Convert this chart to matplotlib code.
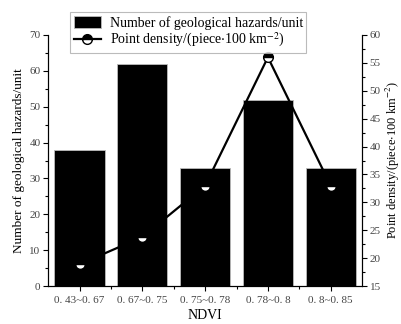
import numpy as np
import matplotlib.pyplot as plt
from matplotlib.ticker import MultipleLocator

# data
ndvi_classes = ["0. 43~0. 67", "0. 67~0. 75", "0. 75~0. 78", "0. 78~0. 8", "0. 8~0. 85"]
hazard_counts = [38, 62, 33, 52, 33]
point_density = [18.9, 23.8, 33.0, 56.0, 33.0]

plt.rcParams['font.family'] = ['Liberation Serif', 'DejaVu Serif']
plt.rcParams['mathtext.fontset'] = 'stix'

fig = plt.figure(figsize=(4.01, 3.24), dpi=100)
ax = fig.add_axes([0.12, 0.117, 0.783, 0.775])
x = np.arange(len(ndvi_classes))

bars = ax.bar(x, hazard_counts, width=0.8, color='black', edgecolor='#bbbbbb',
              linewidth=0.6, label='Number of geological hazards/unit', zorder=2)
ax.set_xlim(-0.5, 4.5)
ax.set_ylim(0, 70)
ax.yaxis.set_major_locator(MultipleLocator(10))
ax.yaxis.set_minor_locator(MultipleLocator(5))
ax.set_xticks(x)
ax.set_xticks(x[:-1] + 0.5, minor=True)
ax.set_xticklabels(ndvi_classes, fontsize=8, color='#444444')
ax.tick_params(axis='y', labelsize=8, labelcolor='#444444', pad=2)
ax.tick_params(which='both', direction='out', width=0.8)
ax.tick_params(which='major', length=3.5)
ax.tick_params(which='minor', length=2)
ax.spines['top'].set_visible(False)
ax.set_xlabel('NDVI', fontsize=10, labelpad=3)
ax.set_ylabel('Number of geological hazards/unit', fontsize=9.5, labelpad=3)

ax2 = ax.twinx()
line, = ax2.plot(x, point_density, color='black', linewidth=1.6, marker='o',
                 markersize=7, fillstyle='top', markerfacecolor='black',
                 markerfacecoloralt='white', markeredgecolor='black',
                 markeredgewidth=1.0, label='Point density/(piece$\\cdot$100 km$^{-2}$)')
ax2.set_ylim(15, 60)
ax2.yaxis.set_major_locator(MultipleLocator(5))
ax2.yaxis.set_minor_locator(MultipleLocator(2.5))
ax2.tick_params(axis='y', labelsize=8, labelcolor='#444444', pad=2)
ax2.tick_params(which='both', direction='out', width=0.8)
ax2.tick_params(which='major', length=3.5)
ax2.tick_params(which='minor', length=2)
ax2.spines['top'].set_visible(False)
ax2.set_ylabel('Point density/(piece$\\cdot$100 km$^{-2}$)', fontsize=9, labelpad=2)

leg = ax2.legend([bars, line], [bars.get_label(), line.get_label()],
                 loc='upper left', bbox_to_anchor=(0.07, 1.09), borderaxespad=0,
                 fontsize=10, frameon=True, fancybox=False, edgecolor='#aaaaaa',
                 handlelength=2.0, handleheight=0.9, handletextpad=0.6,
                 borderpad=0.25, labelspacing=0.1)
leg.get_frame().set_linewidth(0.8)

fig.savefig('out.png', dpi=100)
